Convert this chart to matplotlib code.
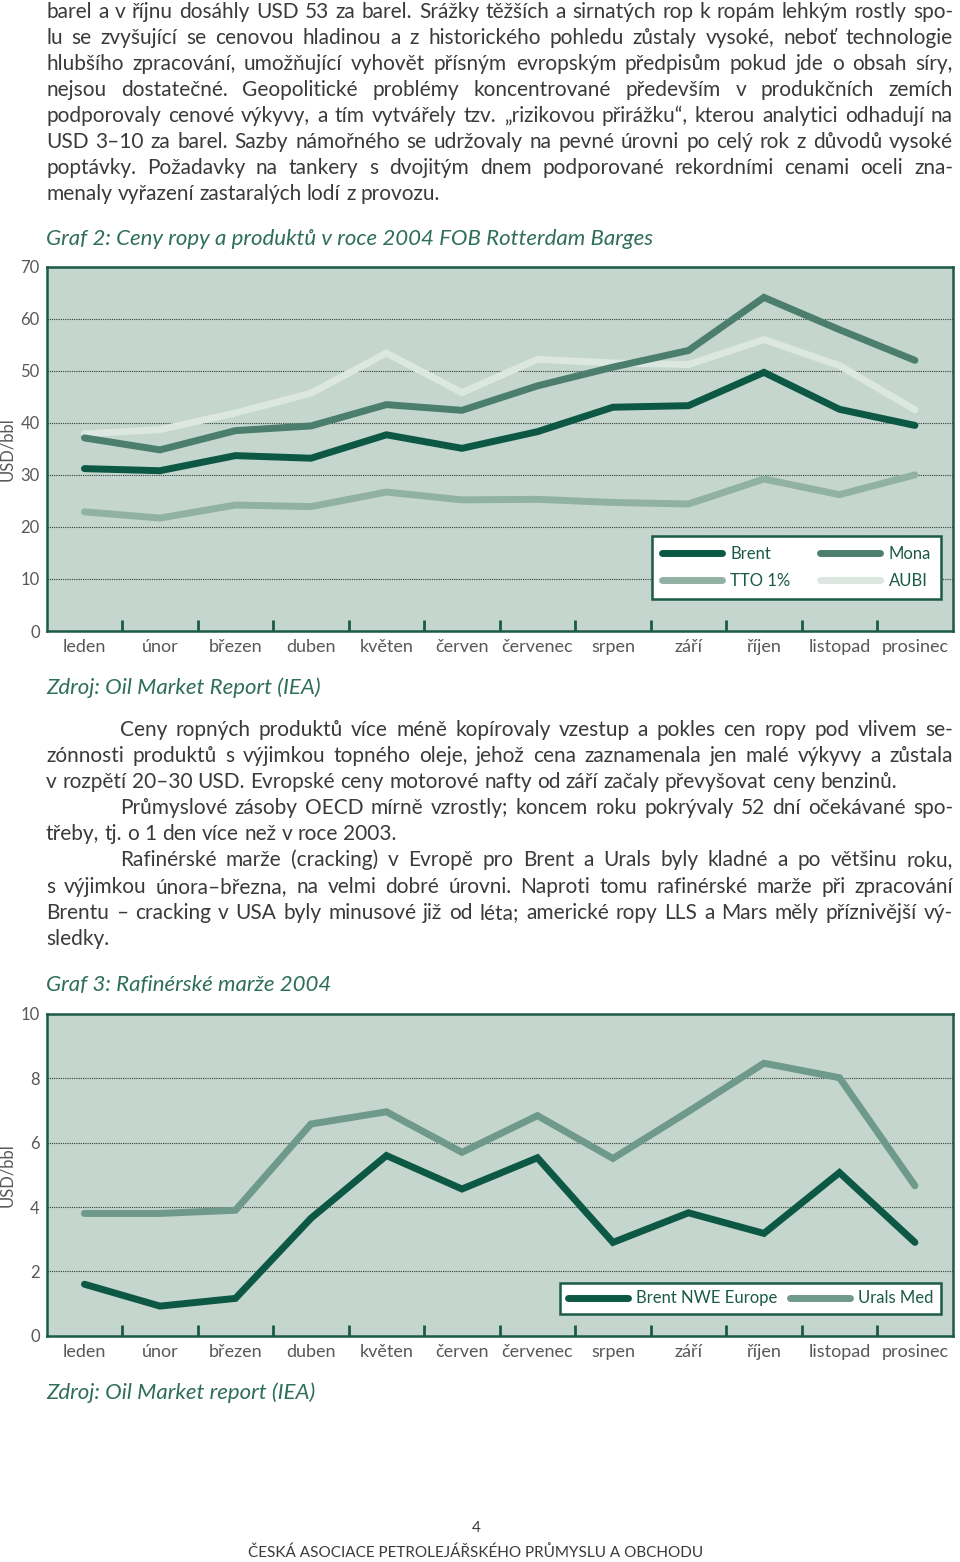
import matplotlib
matplotlib.use("AGG")
import matplotlib.pyplot as plt
import numpy as np

# --- data ---
months = ["leden", "únor", "březen", "duben", "květen", "červen",
          "červenec", "srpen", "září", "říjen", "listopad", "prosinec"]

brent = [31.2, 30.8, 33.7, 33.2, 37.7, 35.1, 38.3, 43.0, 43.3, 49.7, 42.6, 39.5]
mona = [37.1, 34.8, 38.5, 39.4, 43.5, 42.4, 47.1, 50.7, 53.9, 64.1, 57.9, 52.0]
tto = [22.9, 21.7, 24.2, 23.9, 26.7, 25.2, 25.3, 24.7, 24.4, 29.2, 26.2, 30.0]
aubi = [37.9, 38.7, 41.9, 45.7, 53.4, 45.8, 52.2, 51.5, 51.2, 56.0, 51.0, 42.5]

brent_nwe = [1.6, 0.92, 1.16, 3.65, 5.6, 4.56, 5.53, 2.9, 3.82, 3.18, 5.07, 2.9]
urals_med = [3.8, 3.8, 3.9, 6.58, 6.96, 5.7, 6.84, 5.51, 6.97, 8.47, 8.02, 4.66]

para1 = [
    "barel a v říjnu dosáhly USD 53 za barel. Srážky těžších a sirnatých rop k ropám lehkým rostly spo-",
    "lu se zvyšující se cenovou hladinou a z historického pohledu zůstaly vysoké, neboť technologie",
    "hlubšího zpracování, umožňující vyhovět přísným evropským předpisům pokud jde o obsah síry,",
    "nejsou dostatečné. Geopolitické problémy koncentrované především v produkčních zemích",
    "podporovaly cenové výkyvy, a tím vytvářely tzv. „rizikovou přirážku“, kterou analytici odhadují na",
    "USD 3–10 za barel. Sazby námořného se udržovaly na pevné úrovni po celý rok z důvodů vysoké",
    "poptávky. Požadavky na tankery s dvojitým dnem podporované rekordními cenami oceli zna-",
    "menaly vyřazení zastaralých lodí z provozu.",
]
# (text, indented, justified)
para2 = [
    ("Ceny ropných produktů více méně kopírovaly vzestup a pokles cen ropy pod vlivem se-", True, True),
    ("zónnosti produktů s výjimkou topného oleje, jehož cena zaznamenala jen malé výkyvy a zůstala", False, True),
    ("v rozpětí 20–30 USD. Evropské ceny motorové nafty od září začaly převyšovat ceny benzinů.", False, False),
    ("Průmyslové zásoby OECD mírně vzrostly; koncem roku pokrývaly 52 dní očekávané spo-", True, True),
    ("třeby, tj. o 1 den více než v roce 2003.", False, False),
    ("Rafinérské marže (cracking) v Evropě pro Brent a Urals byly kladné a po většinu roku,", True, True),
    ("s výjimkou února–března, na velmi dobré úrovni. Naproti tomu rafinérské marže při zpracování", False, True),
    ("Brentu – cracking v USA byly minusové již od léta; americké ropy LLS a Mars měly příznivější vý-", False, True),
    ("sledky.", False, False),
]

FONT = ["Lato", "DejaVu Sans"]
plt.rcParams["font.family"] = FONT

BG = "#c4d6cd"
SPINE = "#1b5a48"
GREEN_TXT = "#2e6e5a"
TXT = "#3a3a3a"
TICK = "#585858"
C_BRENT = "#0c5845"
C_MONA = "#4b7e6d"
C_TTO = "#90b1a4"
C_AUBI = "#dce7e2"
C_URALS = "#6f998a"

W, H = 960, 1562
fig = plt.figure(figsize=(W / 100, H / 100), dpi=100)
rend = fig.canvas.get_renderer()


def fx(x):
    return x / W


def fy(y):
    return 1 - y / H


def tw(s, size):
    t = fig.text(0, 0, s, fontsize=size)
    w = t.get_window_extent(rend).width
    t.remove()
    return w


def put_line(s, x0, x1, y, size, justify):
    words = s.split(" ")
    widths = [tw(w, size) for w in words]
    if justify and len(words) > 1:
        gap = (x1 - x0 - sum(widths)) / (len(words) - 1)
    else:
        gap = tw("a a", size) - 2 * tw("a", size)
    x = x0
    for w, wd in zip(words, widths):
        fig.text(fx(x), fy(y), w, fontsize=size, color=TXT, va="baseline", ha="left")
        x += wd + gap


# body font size: largest size at which every justified line still fits
body = 20
left, right, indent = 46, 953, 120
need = []
for s in para1[:-1]:
    need.append((tw(s, body), right - left))
for s, ind, j in para2:
    if j:
        need.append((tw(s, body), right - (indent if ind else left)))
ratio = min(a / b for b, a in need)
body = min(body * ratio * 0.99, 15)

for i, s in enumerate(para1):
    put_line(s, left, right, 18 + 26 * i, body, i < len(para1) - 1)

for i, (s, ind, j) in enumerate(para2):
    put_line(s, indent if ind else left, right, 736 + 26.1 * i, body, j)

# titles and sources
TS = 16
fig.text(fx(46), fy(245), "Graf 2: Ceny ropy a produktů v roce 2004 FOB Rotterdam Barges",
         fontsize=TS, style="italic", color=GREEN_TXT, va="baseline")
fig.text(fx(46), fy(694), "Zdroj: Oil Market Report (IEA)",
         fontsize=TS, style="italic", color=GREEN_TXT, va="baseline")
fig.text(fx(46), fy(991), "Graf 3: Rafinérské marže 2004",
         fontsize=TS, style="italic", color=GREEN_TXT, va="baseline")
fig.text(fx(46), fy(1399), "Zdroj: Oil Market report (IEA)",
         fontsize=TS, style="italic", color=GREEN_TXT, va="baseline")

fig.text(fx(476), fy(1528), "4", fontsize=11, color=TXT, ha="center", va="center")
fig.text(fx(476), fy(1553), "ČESKÁ ASOCIACE PETROLEJÁŘSKÉHO PRŮMYSLU A OBCHODU",
         fontsize=11, color=TXT, ha="center", va="center")

xpos = np.arange(12) + 0.5


def setup_axes(ax, yticks):
    ax.set_facecolor(BG)
    for sp in ax.spines.values():
        sp.set_color(SPINE)
        sp.set_linewidth(1.8)
    ax.set_xlim(0, 12)
    ax.set_ylim(yticks[0], yticks[-1])
    ax.set_yticks(yticks)
    ax.set_yticklabels([str(v) for v in yticks])
    ax.tick_params(axis="y", length=0, pad=5, labelsize=12, labelcolor=TICK)
    ax.set_xticks(range(1, 12))
    ax.set_xticklabels([])
    ax.tick_params(axis="x", which="major", direction="in", length=8, width=2, color=SPINE)
    ax.set_xticks(xpos, minor=True)
    ax.set_xticklabels(months, minor=True)
    ax.tick_params(axis="x", which="minor", length=0, pad=6, labelsize=13, labelcolor=TICK)
    ax.yaxis.grid(True, linestyle=(0, (1, 1)), color="#2f3f38", linewidth=0.8)
    ax.set_axisbelow(True)
    ax.set_ylabel("USD/bbl", fontsize=12, color=TICK)
    ax.yaxis.set_label_coords(-0.035, 0.5)


def line(ax, y, c):
    h, = ax.plot(xpos, y, color=c, lw=5, solid_capstyle="round", solid_joinstyle="miter")
    return h


# Graf 2
ax1 = fig.add_axes([fx(46.7), fy(631), (952.7 - 46.7) / W, (631 - 266.7) / H])
setup_axes(ax1, list(range(0, 71, 10)))
l_tto = line(ax1, tto, C_TTO)
l_aubi = line(ax1, aubi, C_AUBI)
l_mona = line(ax1, mona, C_MONA)
l_brent = line(ax1, brent, C_BRENT)
leg1 = ax1.legend([l_brent, l_tto, l_mona, l_aubi], ["Brent", "TTO 1%", "Mona", "AUBI"],
                  ncol=2, loc="lower left", mode="expand",
                  bbox_to_anchor=(0.668, 0.088, 0.319, 0.167), borderaxespad=0,
                  fancybox=False, framealpha=1, edgecolor=SPINE, facecolor="white",
                  fontsize=12, handlelength=3.6, handletextpad=0.5, labelspacing=0.65,
                  borderpad=0.6, labelcolor=SPINE)
leg1.get_frame().set_linewidth(1.8)

# Graf 3
ax2 = fig.add_axes([fx(46.7), fy(1335.7), (952.7 - 46.7) / W, (1335.7 - 1014) / H])
setup_axes(ax2, list(range(0, 11, 2)))
u = line(ax2, urals_med, C_URALS)
b = line(ax2, brent_nwe, C_BRENT)
leg2 = ax2.legend([b, u], ["Brent NWE Europe", "Urals Med"], ncol=2, loc="lower left",
                  mode="expand", bbox_to_anchor=(0.5666, 0.0675, 0.4204, 0.105), borderaxespad=0,
                  fancybox=False, framealpha=1, edgecolor=SPINE, facecolor="white",
                  fontsize=12, handlelength=3.6, handletextpad=0.5, borderpad=0.45,
                  labelcolor=SPINE)
leg2.get_frame().set_linewidth(1.8)

fig.savefig("out.png", dpi=100, facecolor="white")
